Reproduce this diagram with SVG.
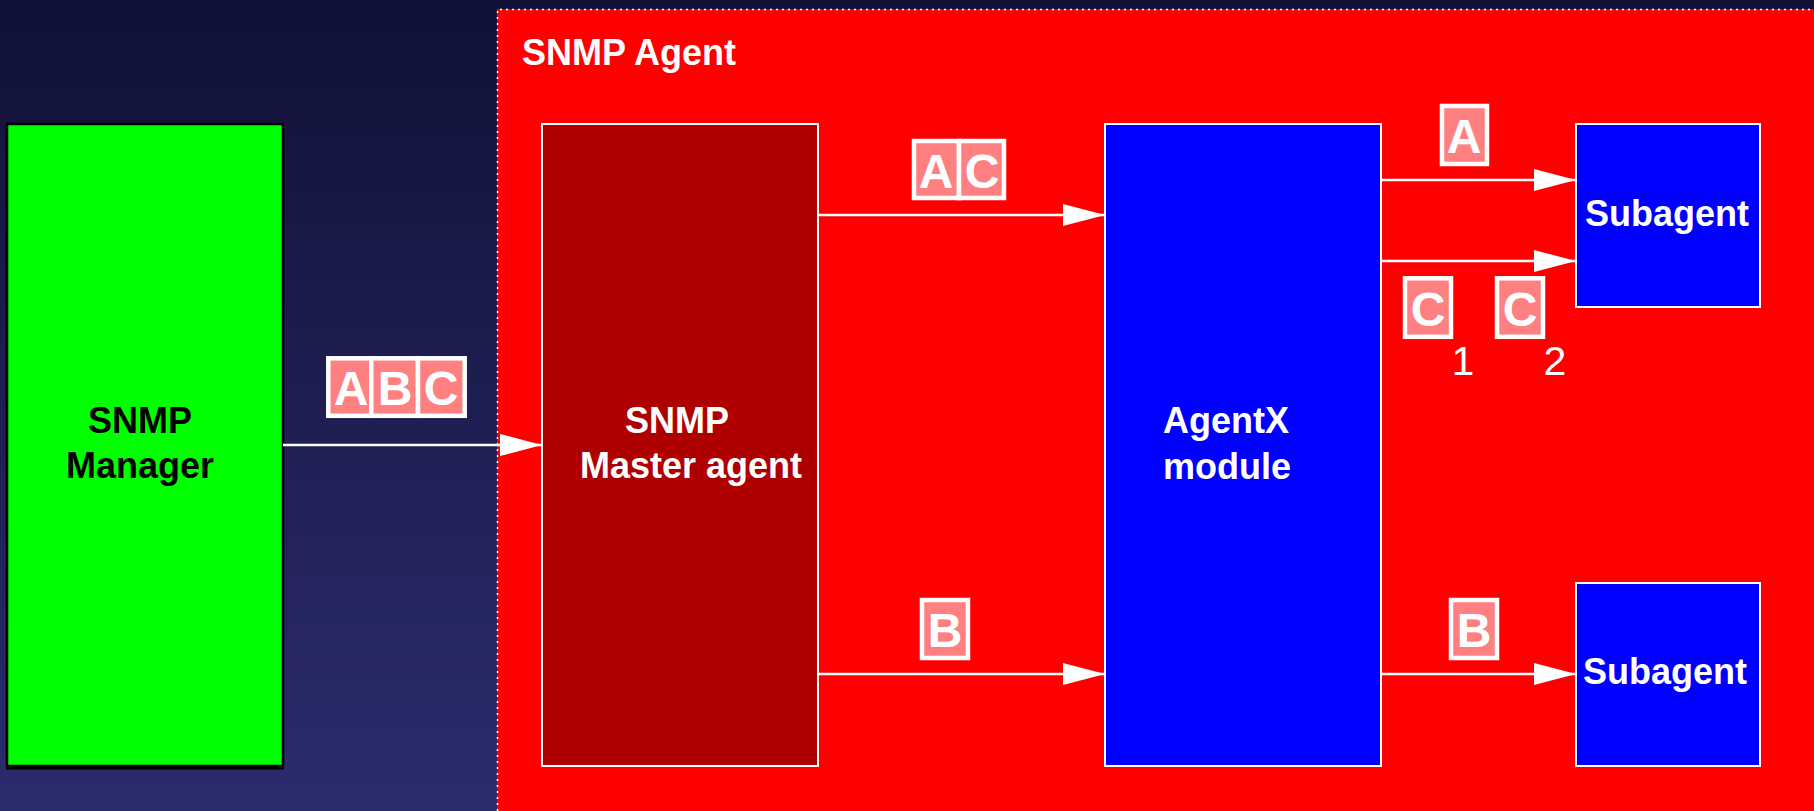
<svg xmlns="http://www.w3.org/2000/svg" width="1814" height="811" viewBox="0 0 1814 811">
  <defs>
    <linearGradient id="bg" x1="0" y1="0" x2="0" y2="1">
      <stop offset="0" stop-color="#111036"/>
      <stop offset="1" stop-color="#2c2c6e"/>
    </linearGradient>
    <marker id="head" markerUnits="userSpaceOnUse" markerWidth="44" markerHeight="24" refX="42" refY="11" orient="auto">
      <polygon points="0,0 42,11 0,22" fill="#ffffff"/>
    </marker>
    <style>
      .lbl { font-family: "Liberation Sans", Arial, sans-serif; font-weight: bold; font-size: 36px; text-anchor: middle; }
      .wt { fill: #ffffff; }
      .bk { fill: #000000; }
      .cell { fill: #ff8080; stroke: #ffffff; stroke-width: 4.5; }
      .tag { font-family: "Liberation Sans", Arial, sans-serif; font-weight: bold; font-size: 48px; fill: #ffffff; text-anchor: middle; }
      .idx { font-family: "Liberation Sans", Arial, sans-serif; font-size: 41px; fill: #ffffff; text-anchor: middle; }
      .wire { stroke: #ffffff; stroke-width: 2.5; fill: none; marker-end: url(#head); }
    </style>
  </defs>

  <!-- backdrop -->
  <rect x="0" y="0" width="1814" height="811" fill="url(#bg)"/>

  <!-- agent container -->
  <g id="snmp-agent">
    <rect x="497" y="9" width="1330" height="815" fill="#ff0000"/>
    <path d="M497.5,811 V9.5 H1814" fill="none" stroke="#ffffff" stroke-width="1.5" stroke-dasharray="2 4"/>
    <text class="lbl wt" x="522" y="65" style="text-anchor:start">SNMP Agent</text>
  </g>

  <!-- manager -->
  <g id="manager">
    <rect x="7" y="124" width="276" height="642" fill="#00ff00" stroke="#000000" stroke-width="2.5"/>
    <line x1="6" y1="768" x2="284" y2="768" stroke="#000000" stroke-width="3"/>
    <text class="lbl bk" x="140" y="433">SNMP</text>
    <text class="lbl bk" x="140" y="478">Manager</text>
  </g>

  <!-- master agent -->
  <g id="master-agent">
    <rect x="542" y="124" width="276" height="642" fill="#ae0000" stroke="#ffffff" stroke-width="2"/>
    <text class="lbl wt" x="677" y="433">SNMP</text>
    <text class="lbl wt" x="691" y="478">Master agent</text>
  </g>

  <!-- agentx module -->
  <g id="agentx">
    <rect x="1105" y="124" width="276" height="642" fill="#0000ff" stroke="#ffffff" stroke-width="2"/>
    <text class="lbl wt" x="1163" y="433" style="text-anchor:start">AgentX</text>
    <text class="lbl wt" x="1163" y="479" style="text-anchor:start">module</text>
  </g>

  <!-- subagents -->
  <g id="subagent-1">
    <rect x="1576" y="124" width="184" height="183" fill="#0000ff" stroke="#ffffff" stroke-width="2"/>
    <text class="lbl wt" x="1667" y="226">Subagent</text>
  </g>
  <g id="subagent-2">
    <rect x="1576" y="583" width="184" height="183" fill="#0000ff" stroke="#ffffff" stroke-width="2"/>
    <text class="lbl wt" x="1665" y="684">Subagent</text>
  </g>

  <!-- connectors -->
  <g id="connectors">
    <line class="wire" x1="283" y1="445" x2="542" y2="445"/>
    <line class="wire" x1="818" y1="215" x2="1105" y2="215"/>
    <line class="wire" x1="1381" y1="180" x2="1576" y2="180"/>
    <line class="wire" x1="1381" y1="261" x2="1576" y2="261"/>
    <line class="wire" x1="818" y1="674" x2="1105" y2="674"/>
    <line class="wire" x1="1381" y1="674" x2="1576" y2="674"/>
  </g>

  <!-- request tags -->
  <g id="tag-abc">
    <rect class="cell" x="328.3" y="358.3" width="43" height="57.5"/>
    <rect class="cell" x="371.3" y="358.3" width="46.7" height="57.5"/>
    <rect class="cell" x="418" y="358.3" width="46.7" height="57.5"/>
    <text class="tag" x="351" y="405">A</text>
    <text class="tag" x="395" y="405">B</text>
    <text class="tag" x="441" y="405">C</text>
  </g>
  <g id="tag-ac">
    <rect class="cell" x="914" y="141" width="45" height="57"/>
    <rect class="cell" x="959" y="141" width="45" height="57"/>
    <text class="tag" x="936" y="188">A</text>
    <text class="tag" x="982" y="188">C</text>
  </g>
  <g id="tag-a">
    <rect class="cell" x="1442" y="106" width="45" height="58"/>
    <text class="tag" x="1464" y="153">A</text>
  </g>
  <g id="tag-c1">
    <rect class="cell" x="1405" y="278.3" width="46" height="58.5"/>
    <text class="tag" x="1428" y="326">C</text>
    <text class="idx" x="1463" y="375">1</text>
  </g>
  <g id="tag-c2">
    <rect class="cell" x="1497" y="278.3" width="46" height="58.5"/>
    <text class="tag" x="1520" y="326">C</text>
    <text class="idx" x="1555" y="375">2</text>
  </g>
  <g id="tag-b1">
    <rect class="cell" x="922" y="600" width="46" height="58"/>
    <text class="tag" x="945" y="647">B</text>
  </g>
  <g id="tag-b2">
    <rect class="cell" x="1451" y="600" width="46" height="58"/>
    <text class="tag" x="1474" y="647">B</text>
  </g>
</svg>
